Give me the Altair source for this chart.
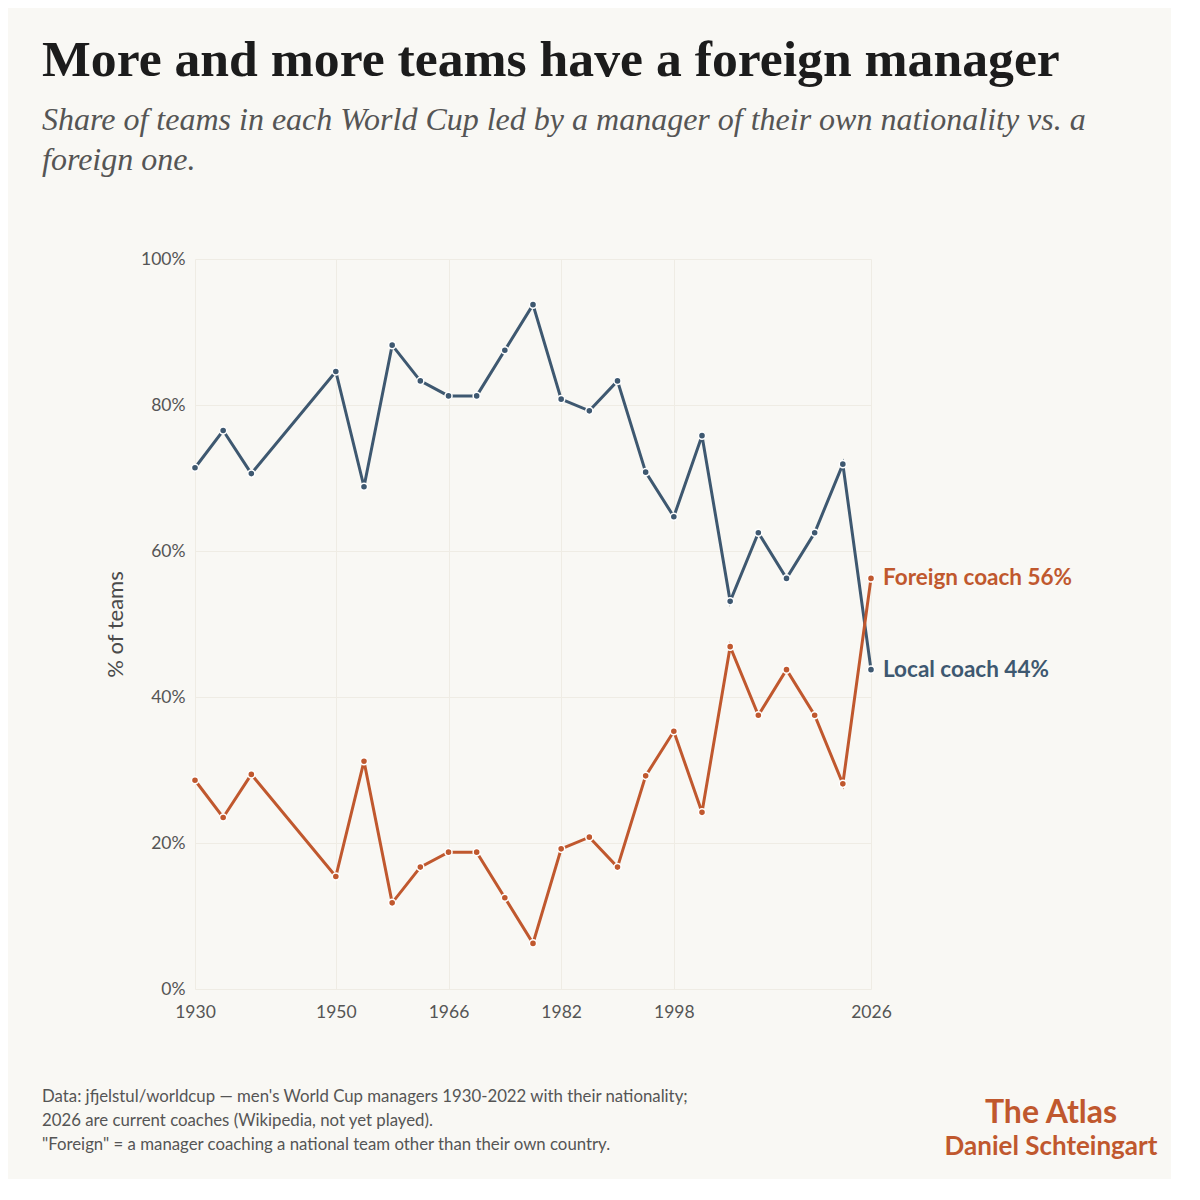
import altair as alt
import pandas as pd

years = [1930, 1934, 1938, 1950, 1954, 1958, 1962, 1966, 1970, 1974, 1978, 1982,
         1986, 1990, 1994, 1998, 2002, 2006, 2010, 2014, 2018, 2022, 2026]
local_share = [71.4, 76.5, 70.6, 84.6, 68.8, 88.2, 83.3, 81.25, 81.25, 87.5, 93.75, 80.8,
               79.2, 83.3, 70.8, 64.7, 75.8, 53.1, 62.5, 56.25, 62.5, 71.9, 43.75]
foreign_share = [28.6, 23.5, 29.4, 15.4, 31.2, 11.8, 16.7, 18.75, 18.75, 12.5, 6.25, 19.2,
                 20.8, 16.7, 29.2, 35.3, 24.2, 46.9, 37.5, 43.75, 37.5, 28.1, 56.25]
series_names = ["Local coach", "Foreign coach"]
series_colors = ["#3E5870", "#C0582E"]
x_ticks = [1930, 1950, 1966, 1982, 1998, 2026]
y_ticks = [0, 20, 40, 60, 80, 100]

title_text = "More and more teams have a foreign manager"
subtitle_lines = ["Share of teams in each World Cup led by a manager of their own nationality vs. a",
                  "foreign one."]
footer_lines = ["Data: jfjelstul/worldcup \u2014 men's World Cup managers 1930-2022 with their nationality;",
                "2026 are current coaches (Wikipedia, not yet played).",
                "\"Foreign\" = a manager coaching a national team other than their own country."]
brand = "The Atlas"
author = "Daniel Schteingart"

df = pd.concat([
    pd.DataFrame({"year": years, "share": local_share, "series": series_names[0]}),
    pd.DataFrame({"year": years, "share": foreign_share, "series": series_names[1]}),
])

SANS = "Source Sans Pro, Lato, sans-serif"
SERIF = "Source Serif Pro, Liberation Serif, serif"
BG = "#F9F8F4"

W, H = 676, 730
L, T = 195, 259  # page position of plot origin

x = alt.X("year:Q",
          scale=alt.Scale(domain=[1930, 2026], nice=False, zero=False),
          axis=alt.Axis(values=x_ticks, format="d", title=None, ticks=False, domain=False,
                        labelFont=SANS, labelFontSize=17.5, labelColor="#555555",
                        labelPadding=14, gridColor="#EFECE4", gridWidth=1,
                        labelFlush=False))
y = alt.Y("share:Q",
          scale=alt.Scale(domain=[0, 100], nice=False),
          axis=alt.Axis(values=y_ticks, labelExpr="datum.value + '%'", title="% of teams",
                        ticks=False, domain=False, labelFont=SANS, labelFontSize=17.5,
                        labelColor="#555555", labelPadding=10, titleFont=SANS,
                        titleFontSize=22, titleFontWeight="normal", titleColor="#4A4A4A",
                        titlePadding=13, gridColor="#EFECE4", gridWidth=1))
color = alt.Color("series:N", scale=alt.Scale(domain=series_names, range=series_colors),
                  legend=None)

base = alt.Chart(df)
lines = base.mark_line(strokeWidth=3).encode(x=x, y=y, color=color, detail="series:N")
points = base.mark_point(filled=True, size=50, stroke="white", strokeWidth=1.5,
                         opacity=1).encode(x=x, y=y, fill=color)
labels = base.transform_filter("datum.year == 2026").transform_calculate(
    lab="datum.series + ' ' + format(datum.share, '.0f') + '%'"
).mark_text(align="left", baseline="middle", dx=12, font=SANS, fontSize=22.5,
            fontWeight="bold").encode(x=x, y=y, text="lab:N", color=color)

one = alt.Data(values=[{"k": 1}])

def txt(text, px, py, **kw):
    return alt.Chart(one).mark_text(x=px - L, y=py - T, text=text, **kw)

title = txt(title_text, 42, 76, align="left", baseline="alphabetic", font=SERIF,
            fontSize=51.7, fontWeight="bold", color="#1C1C1C")
sub1 = txt(subtitle_lines[0], 42, 130, align="left", baseline="alphabetic", font=SERIF,
           fontSize=32, fontStyle="italic", color="#555555")
sub2 = txt(subtitle_lines[1], 42, 170, align="left", baseline="alphabetic", font=SERIF,
           fontSize=32, fontStyle="italic", color="#555555")
foot = [txt(t, 42, yy, align="left", baseline="middle", font=SANS, fontSize=16.8,
            color="#555555") for t, yy in zip(footer_lines, [1097, 1121, 1145])]
b1 = txt(brand, 1051, 1113, align="center", baseline="middle", font=SANS, fontSize=32,
         fontWeight="bold", color="#C0582E")
b2 = txt(author, 1051, 1147, align="center", baseline="middle", font=SANS, fontSize=26,
         fontWeight="bold", color="#C0582E")

chart = alt.layer(lines, points, labels, title, sub1, sub2, *foot, b1, b2).properties(
    width=W, height=H,
    background=BG,
    padding={"left": L - 8, "top": T - 8, "right": 300, "bottom": 190},
    autosize=alt.AutoSizeParams(type="none"),
).configure_view(stroke=None)

chart.save("out.html", embed_options={"renderer": "svg", "actions": False})
